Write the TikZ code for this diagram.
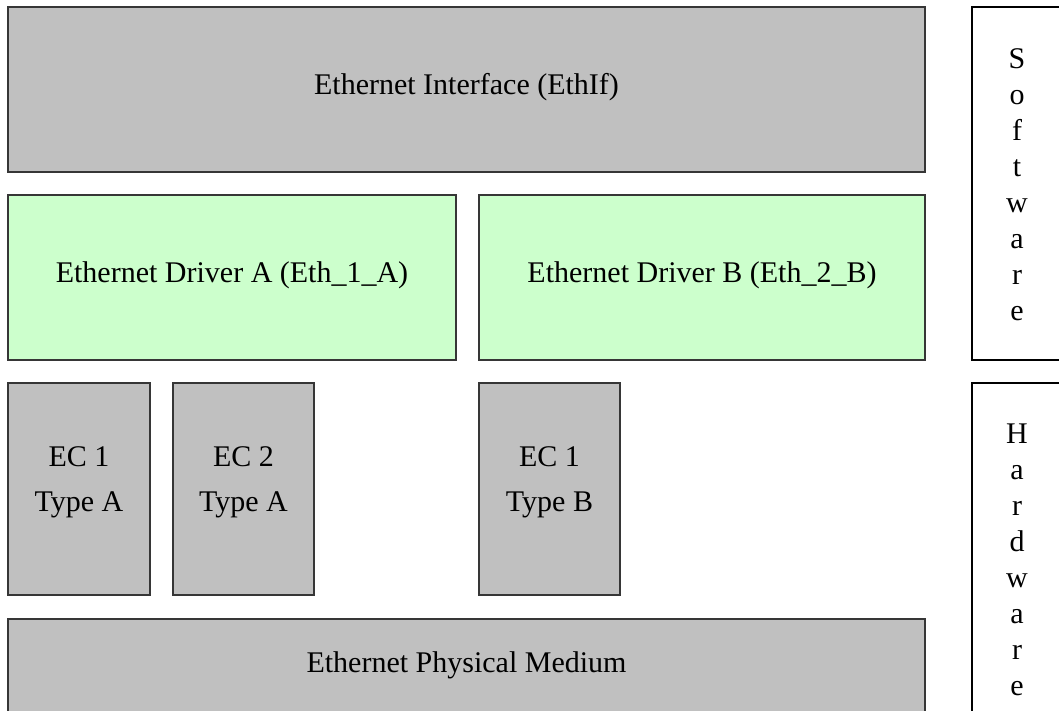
\documentclass[tikz,border=0pt]{standalone}
\usepackage{fontspec}
\setmainfont{Liberation Serif}
\definecolor{boxgray}{HTML}{C0C0C0}
\definecolor{boxgreen}{HTML}{CCFFCC}
\definecolor{edge}{HTML}{363636}
\tikzset{
  blk/.style={draw=edge, line width=1.6pt, inner sep=0pt},
  grayblk/.style={blk, fill=boxgray},
  greenblk/.style={blk, fill=boxgreen},
  side/.style={draw=black, line width=1.2pt, fill=white},
  lbl/.style={font=\fontsize{30}{36}\selectfont, inner sep=0pt, anchor=base, text=black},
}
\begin{document}
\begin{tikzpicture}[x=1pt, y=-1pt]
\useasboundingbox (0,0) rectangle (1059,710);
\clip (0,0) rectangle (1059,710);
\fill[white] (0,0) rectangle (1059,710);
% boxes
\draw[grayblk] (8,7) rectangle (925,172);
\coordinate (ethif) at (466.5,89.5);
\draw[greenblk] (8,195) rectangle (456,360);
\coordinate (drva) at (232,277.5);
\draw[greenblk] (479,195) rectangle (925,360);
\coordinate (drvb) at (702,277.5);
\draw[grayblk] (8,383) rectangle (150,595);
\coordinate (eca) at (79,489);
\draw[grayblk] (173,383) rectangle (314,595);
\coordinate (ecb) at (243.5,489);
\draw[grayblk] (479,383) rectangle (620,595);
\coordinate (ecc) at (549.5,489);
\draw[grayblk] (8,619) rectangle (925,730);
\coordinate (phys) at (466.5,672);
\draw[side] (972,7) rectangle (1070,360);
\draw[side] (972,383) rectangle (1070,745);
% labels
\node[lbl] (tethif) at ([yshift=-4.5pt]ethif) {Ethernet Interface (EthIf)};
\node[lbl] (tdrva) at ([yshift=-4.5pt]drva) {Ethernet Driver A (Eth\_1\_A)};
\node[lbl] (tdrvb) at ([yshift=-4.5pt]drvb) {Ethernet Driver B (Eth\_2\_B)};
\node[lbl] (teca1) at ([yshift=23pt]eca) {EC 1};
\node[lbl] (teca2) at ([yshift=-22pt]eca) {Type A};
\node[lbl] (tecb1) at ([yshift=23pt]ecb) {EC 2};
\node[lbl] (tecb2) at ([yshift=-22pt]ecb) {Type A};
\node[lbl] (tecc1) at ([yshift=23pt]ecc) {EC 1};
\node[lbl] (tecc2) at ([yshift=-22pt]ecc) {Type B};
\node[lbl] (tphys) at (phys) {Ethernet Physical Medium};
% vertical words
\foreach \ch [count=\i from 0] in {S,o,f,t,w,a,r,e} {
  \node[lbl] (sw\i) at (1017,68+36*\i) {\ch};
}
\foreach \ch [count=\i from 0] in {H,a,r,d,w,a,r,e} {
  \node[lbl] (hw\i) at (1017,443+36*\i) {\ch};
}
\end{tikzpicture}
\end{document}
